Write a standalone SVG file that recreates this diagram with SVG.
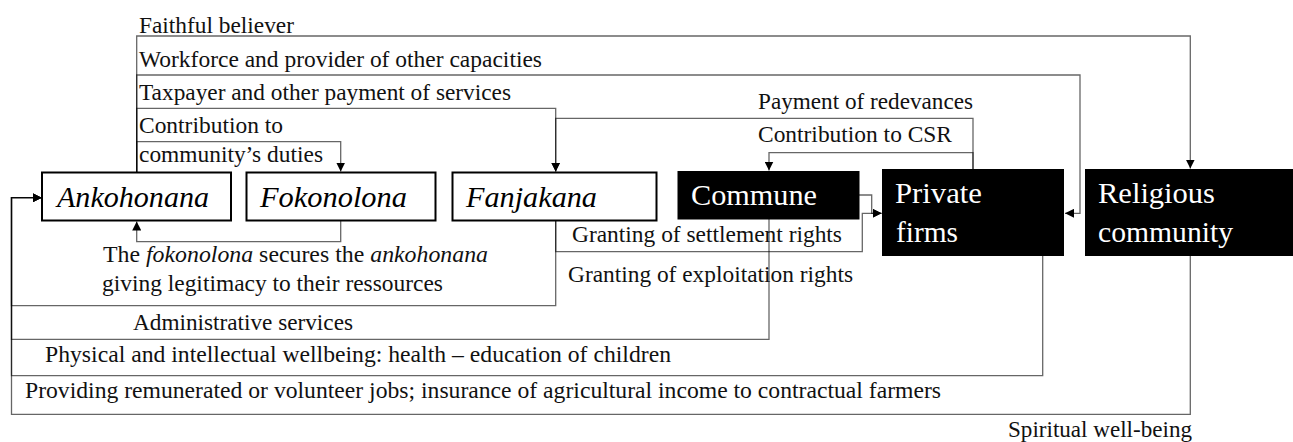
<svg xmlns="http://www.w3.org/2000/svg" width="1293" height="442" viewBox="0 0 1293 442">
  <defs>
    <marker id="arr" markerUnits="userSpaceOnUse" markerWidth="10" markerHeight="9" refX="9" refY="4.5" orient="auto">
      <path d="M0,0 L9,4.5 L0,9 z" fill="#000"/>
    </marker>
    <style>
      .lbl { font-family: "Liberation Serif", "Times New Roman", serif; font-size: 23px; fill: #111; }
      .it { font-style: italic; }
      .box { fill: #fff; stroke: #000; stroke-width: 2; }
      .dark { fill: #000; stroke: none; }
      .nodeI { font-family: "Liberation Serif", "Times New Roman", serif; font-size: 29px; font-style: italic; fill: #000; }
      .nodeW { font-family: "Liberation Serif", "Times New Roman", serif; font-size: 30px; fill: #fff; }
      .con { fill: none; stroke: #000; stroke-opacity: 0.6; stroke-width: 1.3; marker-end: url(#arr); }
    </style>
  </defs>
  <rect width="1293" height="442" fill="#fff"/>

  <!-- connectors -->
  <g id="connectors">
    <path class="con" d="M136.7,172 V36 H1190.3 V168.5"/>
    <path class="con" d="M136.7,172 V75 H1080 V213.3 H1065"/>
    <path class="con" d="M136.7,172 V108.3 H555.7 V171.5"/>
    <path class="con" d="M136.7,172 V141.7 H340.7 V171.5"/>
    <path class="con" d="M973,169 V118.3 H555.7 V171.5"/>
    <path class="con" d="M973,169 V152.7 H769 V170.5"/>
    <path class="con" d="M859,195 H871.7 V213.3 H881.5"/>
    <path class="con" d="M555.7,221 V251.7 H862.3 V213.3 H881.5"/>
    <path class="con" d="M340.7,221 V241.7 H136.7 V221.5"/>
    <path class="con" d="M555.7,221 V305.7 H11.5 V197.7 H41.5"/>
    <path class="con" d="M769,219 V339.3 H11.5 V197.7 H41.5"/>
    <path class="con" d="M1042.7,256 V375.7 H11.5 V197.7 H41.5"/>
    <path class="con" d="M1190.3,256 V414.3 H11.5 V197.7 H41.5"/>
  </g>

  <!-- connector labels -->
  <g id="labels">
    <text class="lbl" x="139" y="33" textLength="155" lengthAdjust="spacingAndGlyphs">Faithful believer</text>
    <text class="lbl" x="139" y="66.5" textLength="403" lengthAdjust="spacingAndGlyphs">Workforce and provider of other capacities</text>
    <text class="lbl" x="139" y="100" textLength="372" lengthAdjust="spacingAndGlyphs">Taxpayer and other payment of services</text>
    <text class="lbl" x="139" y="133" textLength="144" lengthAdjust="spacingAndGlyphs">Contribution to</text>
    <text class="lbl" x="139" y="161.5" textLength="184" lengthAdjust="spacingAndGlyphs">community’s duties</text>
    <text class="lbl" x="758" y="109" textLength="215" lengthAdjust="spacingAndGlyphs">Payment of redevances</text>
    <text class="lbl" x="758" y="142" textLength="194" lengthAdjust="spacingAndGlyphs">Contribution to CSR</text>
    <text class="lbl" x="572" y="241.5" textLength="270" lengthAdjust="spacingAndGlyphs">Granting of settlement rights</text>
    <text class="lbl" x="568" y="281.5" textLength="285" lengthAdjust="spacingAndGlyphs">Granting of exploitation rights</text>
    <text class="lbl" x="103" y="262" textLength="385" lengthAdjust="spacingAndGlyphs">The <tspan class="it">fokonolona</tspan> secures the <tspan class="it">ankohonana</tspan></text>
    <text class="lbl" x="102" y="291" textLength="341" lengthAdjust="spacingAndGlyphs">giving legitimacy to their ressources</text>
    <text class="lbl" x="133" y="330" textLength="220" lengthAdjust="spacingAndGlyphs">Administrative services</text>
    <text class="lbl" x="45" y="361.5" textLength="626" lengthAdjust="spacingAndGlyphs">Physical and intellectual wellbeing: health – education of children</text>
    <text class="lbl" x="25" y="398" textLength="916" lengthAdjust="spacingAndGlyphs">Providing remunerated or volunteer jobs; insurance of agricultural income to contractual farmers</text>
    <text class="lbl" x="1008" y="437" textLength="184" lengthAdjust="spacingAndGlyphs">Spiritual well-being</text>
  </g>

  <!-- nodes -->
  <g id="ankohonana">
    <rect class="box" x="42" y="172.5" width="189" height="48"/>
    <text class="nodeI" x="57" y="206.5" textLength="152" lengthAdjust="spacingAndGlyphs">Ankohonana</text>
  </g>
  <g id="fokonolona">
    <rect class="box" x="246.5" y="172.5" width="189" height="48"/>
    <text class="nodeI" x="260" y="206.5" textLength="147" lengthAdjust="spacingAndGlyphs">Fokonolona</text>
  </g>
  <g id="fanjakana">
    <rect class="box" x="452.5" y="172.5" width="204" height="48"/>
    <text class="nodeI" x="466" y="206.5" textLength="131" lengthAdjust="spacingAndGlyphs">Fanjakana</text>
  </g>
  <g id="commune">
    <rect class="dark" x="677.5" y="171" width="182" height="48.5"/>
    <text class="nodeW" x="691" y="205" textLength="126" lengthAdjust="spacingAndGlyphs">Commune</text>
  </g>
  <g id="private-firms">
    <rect class="dark" x="882" y="169" width="182" height="87"/>
    <text class="nodeW" x="895" y="203" textLength="87" lengthAdjust="spacingAndGlyphs">Private</text>
    <text class="nodeW" x="896" y="241.5" textLength="62" lengthAdjust="spacingAndGlyphs">firms</text>
  </g>
  <g id="religious-community">
    <rect class="dark" x="1085" y="169" width="208" height="87"/>
    <text class="nodeW" x="1098" y="203" textLength="117" lengthAdjust="spacingAndGlyphs">Religious</text>
    <text class="nodeW" x="1098" y="241.5" textLength="135" lengthAdjust="spacingAndGlyphs">community</text>
  </g>
</svg>
